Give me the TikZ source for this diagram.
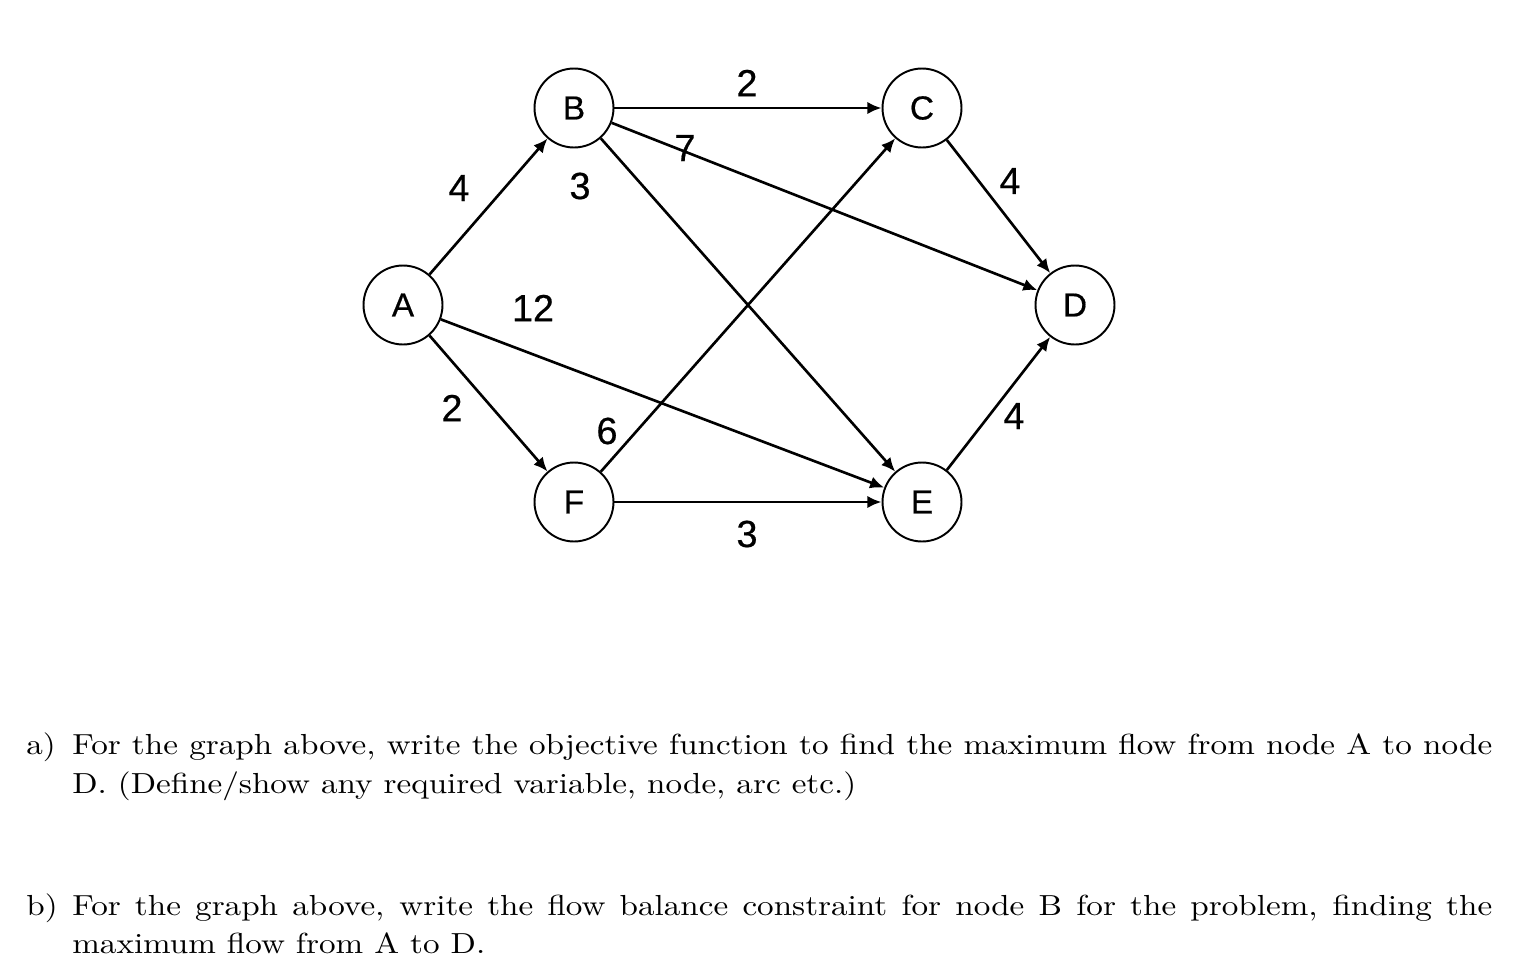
\documentclass[tikz,border=0pt]{standalone}
\usepackage{graphicx}
\usepackage{fontspec}
\newfontfamily\graphfont{Liberation Sans}[FakeBold=0.5]
\newfontfamily\bodyfont{lmroman10-regular}[Extension=.otf]
\usetikzlibrary{arrows.meta}
\newcommand{\wide}[1]{\scalebox{1.143}[1]{#1}}
\begin{document}
\begin{tikzpicture}[x=0.02cm,y=-0.02cm,
  vtx/.style={circle,draw,line width=1.1pt,minimum size=1.58cm,inner sep=0pt,
    font=\graphfont\fontsize{19}{19}\selectfont},
  edge/.style={-{Latex[length=8pt,width=7pt]},line width=1.5pt},
  wt/.style={font=\graphfont\fontsize{21.5}{21.5}\selectfont,inner sep=0pt},
  body/.style={font=\bodyfont\fontsize{16.5}{22}\selectfont,inner sep=0pt,anchor=base west}]
\useasboundingbox (0,0) rectangle (1522,964);
% vertices
\node[vtx] (A) at (403,305) {A};
\node[vtx] (B) at (574,108) {B};
\node[vtx] (C) at (922,108) {C};
\node[vtx] (D) at (1075,305) {D};
\node[vtx] (E) at (922,502) {E};
\node[vtx] (F) at (574,502) {F};
% edges
\draw[edge] (A) -- (B);
\draw[edge] (A) -- (F);
\draw[edge] (A) -- (E);
\draw[edge] (B) -- (C);
\draw[edge] (B) -- (D);
\draw[edge] (B) -- (E);
\draw[edge] (F) -- (C);
\draw[edge] (F) -- (E);
\draw[edge] (C) -- (D);
\draw[edge] (E) -- (D);
% weights
\node[wt] (wAB) at (459,188) {4};
\node[wt] (wBE) at (580,186) {3};
\node[wt] (wBC) at (747,83) {2};
\node[wt] (wBD) at (685,148) {7};
\node[wt] (wCD) at (1010,181) {4};
\node[wt] (wAE) at (533,308) {12};
\node[wt] (wAF) at (452,408) {2};
\node[wt] (wFC) at (607,431) {6};
\node[wt] (wED) at (1014,416) {4};
\node[wt] (wFE) at (747,534) {3};
% text
\node[body] (la) at (26,754) {\wide{a)}};
\node[body] (a1) at (72,754) {\wide{\makebox[24.85cm][s]{For the graph above, write the objective function to find the maximum flow from node A to node}}};
\node[body] (a2) at (72,793) {\wide{D. (Define/show any required variable, node, arc etc.)}};
\node[body] (lb) at (26,915) {\wide{b)}};
\node[body] (b1) at (72,915) {\wide{\makebox[24.85cm][s]{For the graph above, write the flow balance constraint for node B for the problem, finding the}}};
\node[body] (b2) at (72,953) {\wide{maximum flow from A to D.}};
\end{tikzpicture}
\end{document}
